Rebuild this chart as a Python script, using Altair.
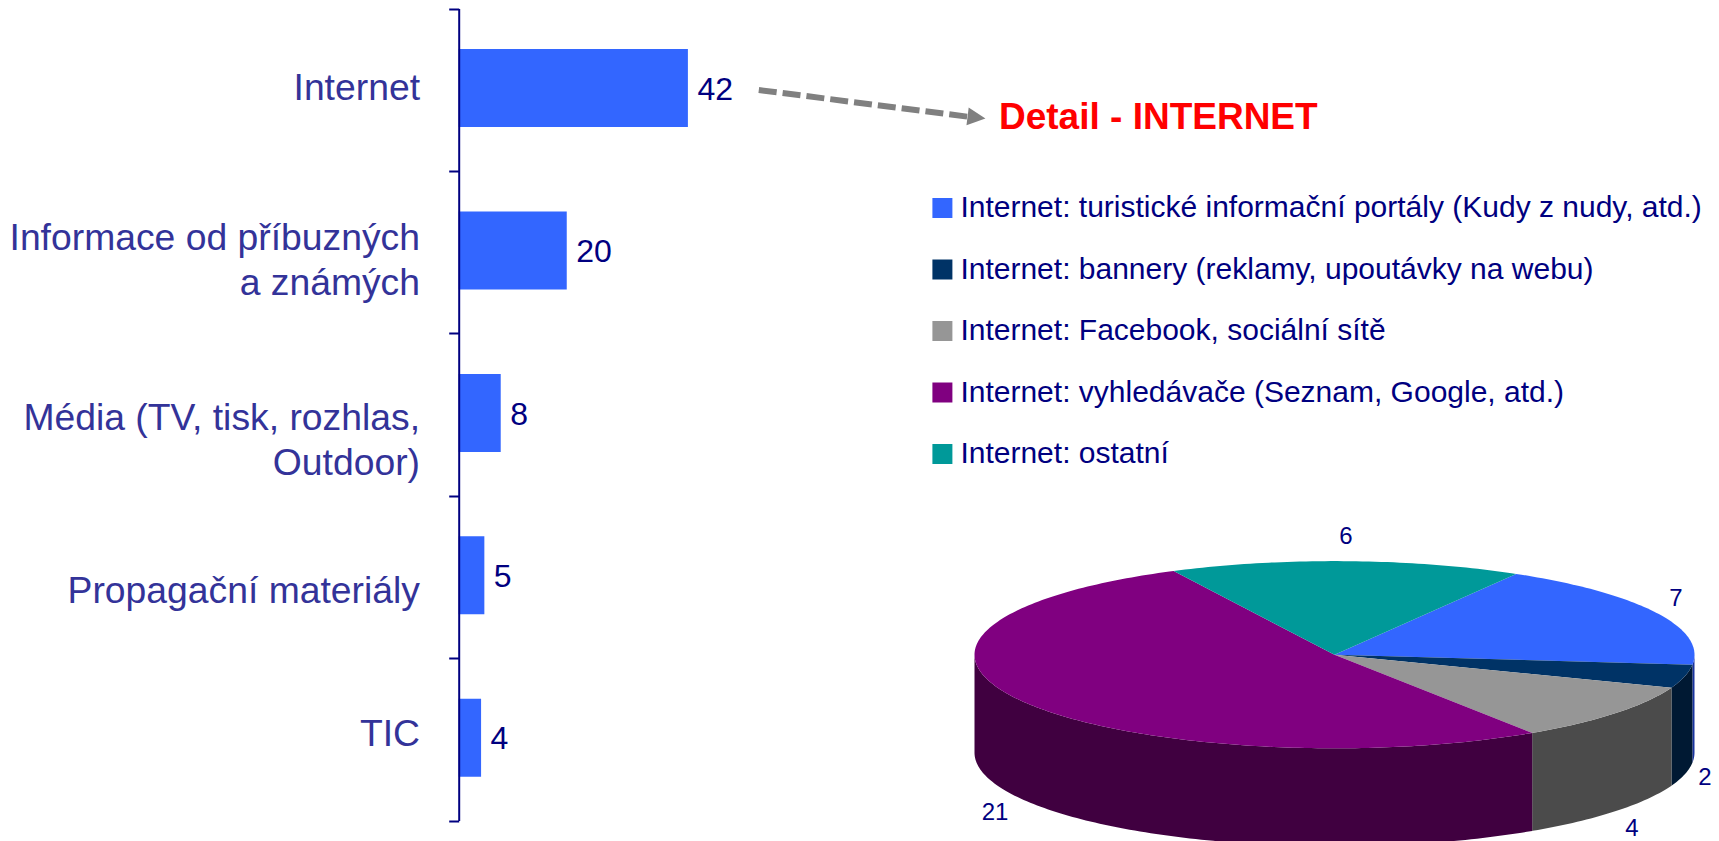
import numpy as np
import pandas as pd
import altair as alt

# ---- data ----
categories = ["Internet", "Informace od příbuzných\na známých",
              "Média (TV, tisk, rozhlas,\nOutdoor)", "Propagační materiály", "TIC"]
bar_lengths = [42.0, 19.8, 7.7, 4.7, 4.1]
bar_labels = ["42", "20", "8", "5", "4"]

slices = ["Internet: turistické informační portály (Kudy z nudy, atd.)",
          "Internet: bannery (reklamy, upoutávky na webu)",
          "Internet: Facebook, sociální sítě",
          "Internet: vyhledávače (Seznam, Google, atd.)",
          "Internet: ostatní"]
slice_shares = [7.3, 1.6, 4.0, 20.7, 6.3]
slice_labels = ["7", "2", "4", "21", "6"]

top_colors = ["#3366FF", "#003366", "#969696", "#800080", "#009999"]
side_colors = ["#1933A0", "#001933", "#4B4B4B", "#400040", "#004C4C"]

# ---- layout (page pixels, minus the 8px page margin) ----
W, H = 1703, 833
M = 8
FONT = "Liberation Sans"
NAVY = "#000080"
CAT = "#333399"
AX_X = 450.7
cat_offsets = [-1, -13, 4, 15, -4]
PIE_CX, PIE_CY, PIE_RX, PIE_RY = 1334.5 - M, 654.7 - M, 360, 93.6
DEPTH = 98 / PIE_RY
START = 30.3
pie_label_px = [(1676, 599), (1705, 778), (1632, 829), (995, 813), (1346, 537)]

# ---- bar panel ----
bars_df = pd.DataFrame({"cat": categories, "v": bar_lengths, "lab": bar_labels})
xs = alt.Scale(domain=[0, 42], range=[AX_X, AX_X + 229.2], nice=False, zero=True)
ys = alt.Scale(domain=categories, range=[0.5, 812.5], paddingInner=0, paddingOuter=0)
y_axis = alt.Axis(labels=False, title=None, offset=-AX_X, tickBand="extent", grid=False,
                  domainColor=NAVY, domainWidth=2, tickColor=NAVY, tickWidth=2, tickSize=10,
                  zindex=1)

bar = alt.Chart(bars_df).mark_bar(color="#3366FF", yOffset=-1.6, height=78).encode(
    x=alt.X("v:Q", scale=xs, axis=None),
    y=alt.Y("cat:N", scale=ys, sort=None, title=None, axis=y_axis),
)
vals = alt.Chart(bars_df).mark_text(align="left", baseline="middle", dx=9.5, font=FONT,
                                    fontSize=32, color=NAVY).encode(
    x=alt.X("v:Q", scale=xs, axis=None),
    y=alt.Y("cat:N", scale=ys, sort=None, title=None, axis=y_axis),
    text="lab:N",
)
cat_layers = []
for c, off in zip(categories, cat_offsets):
    cat_layers.append(
        alt.Chart(bars_df[bars_df.cat == c]).mark_text(
            align="right", baseline="middle", font=FONT, fontSize=37.3, color=CAT,
            lineBreak="\n", lineHeight=45, yOffset=off,
        ).encode(x=alt.value(412), y=alt.Y("cat:N", scale=ys, sort=None, title=None, axis=y_axis),
                 text="cat:N")
    )
bar_panel = alt.layer(bar, vals, *cat_layers)

# ---- tilted pie, computed from the shares ----
total = sum(slice_shares)
edges = START + np.concatenate([[0], np.cumsum(slice_shares)]) / total * 360
top_rows, side_layers = [], []
pxs = alt.Scale(domain=[-1, 1], range=[PIE_CX - PIE_RX, PIE_CX + PIE_RX], nice=False, zero=False)
pys = alt.Scale(domain=[-1, 1], range=[PIE_CY + PIE_RY, PIE_CY - PIE_RY], nice=False, zero=False)

for i, name in enumerate(slices):
    a0, a1 = edges[i], edges[i + 1]
    pts = [(0.0, 0.0)] + [(np.sin(np.radians(a)), np.cos(np.radians(a)))
                          for a in np.append(np.arange(a0, a1, 1.0), a1)]
    for k, (px, py) in enumerate(pts):
        top_rows.append({"slice": name, "k": k, "px": px, "py": py})
    lo, hi = max(a0, 90), min(a1, 270)
    if hi > lo:
        ang = np.radians(np.append(np.arange(lo, hi, 1.0), hi))
        sdf = pd.DataFrame({"px": np.sin(ang), "py": np.cos(ang), "py2": np.cos(ang) - DEPTH})
        side_layers.append(alt.Chart(sdf).mark_area(color=side_colors[i], clip=True, interpolate="linear").encode(
            x=alt.X("px:Q", scale=pxs, axis=None),
            y=alt.Y("py:Q", scale=pys, axis=None),
            y2="py2:Q",
        ))

top = alt.Chart(pd.DataFrame(top_rows)).mark_line(filled=True, strokeWidth=0, clip=True).encode(
    x=alt.X("px:Q", scale=pxs, axis=None),
    y=alt.Y("py:Q", scale=pys, axis=None),
    order="k:Q",
    color=alt.Color("slice:N", sort=None, scale=alt.Scale(domain=slices, range=top_colors),
                    legend=alt.Legend(orient="none", legendX=919.4, legendY=185, title=None,
                                      symbolType="square", symbolSize=400, symbolStrokeWidth=0,
                                      labelFont=FONT, labelFontSize=30, labelColor=NAVY,
                                      labelOffset=3, labelLimit=900, rowPadding=31.5, padding=0,
                                      direction="vertical", columns=1)),
)
label_layers = []
for lab, (lx, ly) in zip(slice_labels, pie_label_px):
    label_layers.append(
        alt.Chart(pd.DataFrame({"t": [lab]})).mark_text(
            font=FONT, fontSize=24, color=NAVY, align="center", baseline="middle"
        ).encode(x=alt.value(lx - M), y=alt.value(ly - M), text="t:N")
    )
pie_panel = alt.layer(*side_layers, top, *label_layers)

# ---- annotations ----
one = pd.DataFrame({"t": ["Detail - INTERNET"]})
arrow = alt.Chart(one).mark_rule(color="#808080", strokeWidth=6, strokeDash=[18, 6]).encode(
    x=alt.value(758.8 - M), x2=alt.value(970 - M), y=alt.value(90 - M), y2=alt.value(117 - M))
head = alt.Chart(one).mark_point(shape="M -1 -1 L 1 0 L -1 1 Z", filled=True, size=324,
                                 color="#808080", opacity=1, angle=7).encode(
    x=alt.value(976.5 - M), y=alt.value(117.5 - M))
title = alt.Chart(one).mark_text(font=FONT, fontWeight="bold", fontSize=37, color="#FF0000",
                                 align="left", baseline="middle").encode(
    x=alt.value(999 - M), y=alt.value(118 - M), text="t:N")

chart = alt.layer(bar_panel, pie_panel, arrow, head, title).resolve_scale(
    x="independent", y="independent", color="independent"
).properties(
    width=W, height=H, padding=0, background="white",
    autosize=alt.AutoSizeParams(type="none"),
).configure_view(stroke=None)

chart.save("out.html", embed_options={"renderer": "svg", "actions": False})
